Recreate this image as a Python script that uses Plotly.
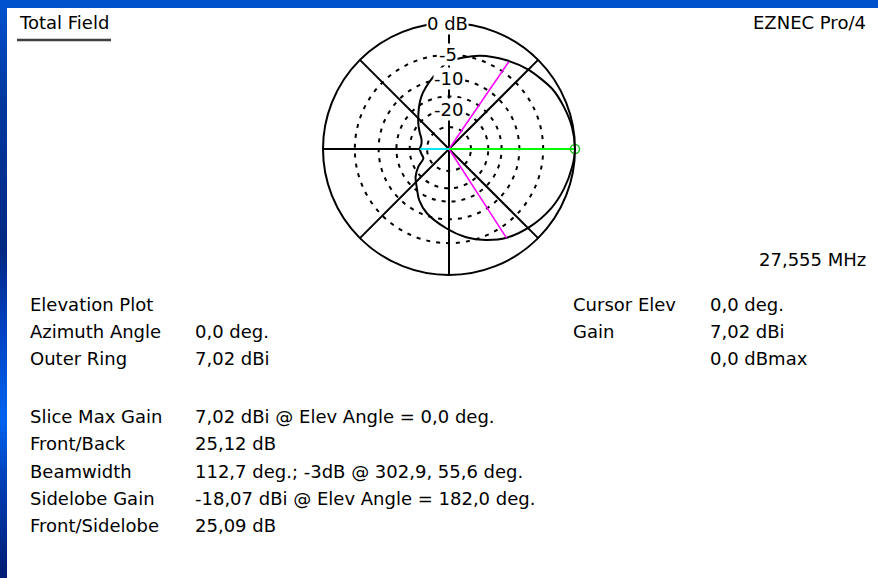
import plotly.graph_objects as go

W, H = 878, 578

# ---- data (relative dB vs elevation angle) ----
pattern_angles = [0, 10, 20, 30, 45, 57, 72, 90, 102, 118, 137, 150, 160, 170, 180,
                  190, 200, 210, 220, 230, 240, 251, 268, 281, 292, 303, 316, 330, 341, 352, 360]
pattern_db = [0, -0.15, -0.5, -0.9, -2.0, -3.0, -4.3, -6.3, -9.1, -13.0, -18.8, -22.5, -25.0, -25.8, -25.1,
              -25.8, -26.3, -21.8, -18.2, -15.8, -12.9, -10.6, -7.95, -5.8, -4.3, -3.0, -2.0, -1.1, -0.6, -0.2, 0]

ring_db = [-5, -10, -15, -20, -30]
ring_label_db = [-5, -10, -20]
ring_label_text = ["-5", "-10", "-20"]
spoke_angles = [0, 45, 90, 135, 180, 225, 270, 315]

beam_edges = [55.6, 302.9]
beam_level_db = -3.0
cursor_angle = 0.0
cursor_db = 0.0
back_angle = 180.0
front_back_db = 25.12

left_labels = ["Elevation Plot", "Azimuth Angle", "Outer Ring",
               "Slice Max Gain", "Front/Back", "Beamwidth", "Sidelobe Gain", "Front/Sidelobe"]
left_values = ["", "0,0 deg.", "7,02 dBi",
               "7,02 dBi @ Elev Angle = 0,0 deg.", "25,12 dB",
               "112,7 deg.; -3dB @ 302,9, 55,6 deg.",
               "-18,07 dBi @ Elev Angle = 182,0 deg.", "25,09 dB"]
right_labels = ["Cursor Elev", "Gain", ""]
right_values = ["0,0 deg.", "7,02 dBi", "0,0 dBmax"]
title_left = "Total Field"
title_right = "EZNEC Pro/4"
freq_text = "27,555 MHz"
outer_label = "0 dB"


def arrl(db):
    """ARRL log radial scale: outer ring = 0 dB."""
    return 0.89 ** (-db / 2.0)


# ---- layout geometry (pixels) ----
CX, CY, R = 449, 149, 126
FONT = "DejaVu Sans"
FS = 18


def px(x):
    return x / W


def py(y):
    return 1 - y / H


fig = go.Figure()

# pattern
fig.add_trace(go.Scatterpolar(
    r=[arrl(d) for d in pattern_db], theta=pattern_angles, mode="lines",
    line=dict(color="black", width=2, shape="spline", smoothing=0.8),
    hoverinfo="skip", showlegend=False))

# beamwidth lines
for a in beam_edges:
    fig.add_trace(go.Scatterpolar(
        r=[0, arrl(beam_level_db)], theta=[a, a], mode="lines",
        line=dict(color="#ff00ff", width=1.5), hoverinfo="skip", showlegend=False))

# back (front/back) line
fig.add_trace(go.Scatterpolar(
    r=[0, arrl(-front_back_db)], theta=[back_angle, back_angle], mode="lines",
    line=dict(color="#00e8f0", width=2), hoverinfo="skip", showlegend=False))

# cursor line
fig.add_trace(go.Scatterpolar(
    r=[0, arrl(cursor_db)], theta=[cursor_angle, cursor_angle], mode="lines",
    line=dict(color="#00ff00", width=2), hoverinfo="skip", showlegend=False))
fig.add_trace(go.Scatterpolar(
    r=[arrl(cursor_db)], theta=[cursor_angle], mode="markers",
    marker=dict(symbol="circle-open", size=9, color="#20c020", line=dict(width=1.5)),
    hoverinfo="skip", showlegend=False))

fig.update_layout(
    width=W, height=H, margin=dict(l=0, r=0, t=0, b=0),
    paper_bgcolor="white", plot_bgcolor="white", showlegend=False,
    font=dict(family=FONT, size=FS, color="black"),
    polar=dict(
        domain=dict(x=[px(CX - R), px(CX + R)], y=[py(CY + R), py(CY - R)]),
        bgcolor="white",
        radialaxis=dict(range=[0, 1], tickvals=[arrl(d) for d in ring_db],
                        showticklabels=False, ticks="", showline=False,
                        showgrid=True, gridcolor="black", gridwidth=1.6,
                        griddash="4px,6px"),
        angularaxis=dict(rotation=0, direction="counterclockwise",
                         tickvals=spoke_angles, showticklabels=False, ticks="",
                         showline=True, linecolor="black", linewidth=2,
                         showgrid=True, gridcolor="black", gridwidth=1.6),
    ),
)

shapes = []
# top blue bar
shapes.append(dict(type="rect", xref="paper", yref="paper", x0=0, x1=1, y0=py(8), y1=1,
                   fillcolor="#0052cc", line=dict(width=0), layer="above"))
# left gradient strip
stops = [(0, (0, 82, 208)), (100, (0, 56, 160)), (250, (0, 40, 130)), (330, (0, 66, 196)),
         (420, (0, 100, 240)), (480, (0, 64, 184)), (578, (0, 28, 112))]
step = 6
y = 0
while y < H:
    ym = y + step / 2
    for (ya, ca), (yb, cb) in zip(stops[:-1], stops[1:]):
        if ya <= ym <= yb:
            t = (ym - ya) / (yb - ya)
            c = tuple(int(round(ca[i] + (cb[i] - ca[i]) * t)) for i in range(3))
            break
    shapes.append(dict(type="rect", xref="paper", yref="paper", x0=0, x1=px(7),
                       y0=py(min(y + step, H)), y1=py(y),
                       fillcolor="rgb(%d,%d,%d)" % c, line=dict(width=0), layer="above"))
    y += step
# underline of title
shapes.append(dict(type="line", xref="paper", yref="paper", x0=px(17), x1=px(111),
                   y0=py(40), y1=py(40), line=dict(color="#404040", width=2.5)))
fig.update_layout(shapes=shapes)

ann = []


def text(x, y, s, xanchor="left", bg=None):
    d = dict(x=px(x), y=py(y), xref="paper", yref="paper", text=s, showarrow=False,
             xanchor=xanchor, yanchor="middle", font=dict(family=FONT, size=FS, color="black"))
    if bg:
        d["bgcolor"] = bg
        d["borderpad"] = 0
    ann.append(d)


text(17, 22.5, title_left)
text(868, 22.5, title_right, xanchor="right")
text(CX - 2, CY - R * arrl(0), outer_label, xanchor="center", bg="white")
for d, s in zip(ring_label_db, ring_label_text):
    text(CX - 1, CY - R * arrl(d), s, xanchor="center", bg="white")
text(868, 259, freq_text, xanchor="right")

left_y = [304, 331.5, 358.5, 416.5, 443.5, 471, 498, 525]
for yy, lab, val in zip(left_y, left_labels, left_values):
    text(28, yy, lab)
    if val:
        text(193, yy, val)
for yy, lab, val in zip(left_y[:3], right_labels, right_values):
    if lab:
        text(571, yy, lab)
    text(708, yy, val)

fig.update_layout(annotations=ann)
fig.write_html(
    "out.html",
    config={"displayModeBar": False},
    post_script="document.body.style.margin='0';document.body.style.overflow='hidden';",
)
